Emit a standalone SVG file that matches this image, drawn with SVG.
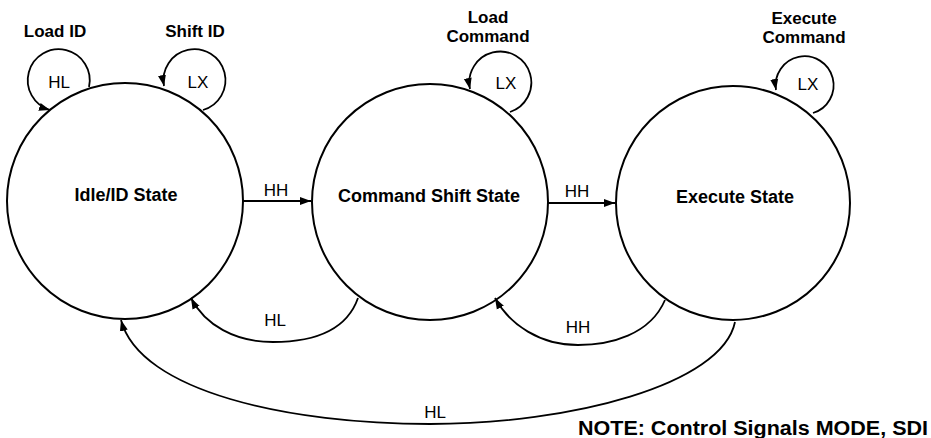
<svg xmlns="http://www.w3.org/2000/svg" width="931" height="438" viewBox="0 0 931 438">
<style>
.st{fill:#fff;stroke:#000;stroke-width:2}
.c{fill:none;stroke:#000;stroke-width:1.8}
.t{font-family:"Liberation Sans",Arial,sans-serif;fill:#000;text-anchor:middle}
.n{font-weight:bold;font-size:18px}
.b{font-weight:bold;font-size:17px}
.r{font-size:17px}
</style>
<defs>
<marker id="ah" markerUnits="userSpaceOnUse" markerWidth="12" markerHeight="10" refX="11" refY="5" orient="auto">
<path d="M0,1 L11,5 L0,9 Z" fill="#000"/>
</marker>
</defs>
<rect width="931" height="438" fill="#fff"/>
<g id="idle">
<circle class="st" cx="125" cy="201" r="118"/>
<text class="t n" x="126" y="201">Idle/ID State</text>
</g>
<g id="cmdshift">
<circle class="st" cx="430" cy="202" r="118"/>
<text class="t n" x="429" y="202">Command Shift State</text>
</g>
<g id="execute">
<circle class="st" cx="733" cy="203" r="117"/>
<text class="t n" x="735" y="203">Execute State</text>
</g>
<g id="connectors">
<path class="c" d="M89,87 A31,31 0 1 0 50,110" marker-end="url(#ah)"/>
<path class="c" d="M203,110 A31,31 0 1 0 164,86" marker-end="url(#ah)"/>
<path class="c" d="M510,112 A31,31 0 1 0 470,89" marker-end="url(#ah)"/>
<path class="c" d="M813,113 A29,29 0 1 0 776,90" marker-end="url(#ah)"/>
<path class="c" d="M243,201 L311,201" marker-end="url(#ah)"/>
<path class="c" d="M548,203 L615,203" marker-end="url(#ah)"/>
<path class="c" d="M358,298 C345,335 305,342 273,342 C235,342 205,325 191,298" marker-end="url(#ah)"/>
<path class="c" d="M665,300 C650,335 610,345 578,345 C540,345 510,325 495,298" marker-end="url(#ah)"/>
<path class="c" d="M735,322 C722,385 570,424 430,424 C290,424 140,392 121,320" marker-end="url(#ah)"/>
</g>
<g id="labels">
<text class="t b" x="55" y="37">Load ID</text>
<text class="t b" x="195" y="37">Shift ID</text>
<text class="t b" x="488" y="23">Load</text>
<text class="t b" x="488" y="42">Command</text>
<text class="t b" x="804" y="24">Execute</text>
<text class="t b" x="804" y="43">Command</text>
<text class="t r" x="59" y="88">HL</text>
<text class="t r" x="198" y="88">LX</text>
<text class="t r" x="506" y="89">LX</text>
<text class="t r" x="808" y="90">LX</text>
<text class="t r" x="276" y="196">HH</text>
<text class="t r" x="577" y="197">HH</text>
<text class="t r" x="275" y="326">HL</text>
<text class="t r" x="578" y="333">HH</text>
<text class="t r" x="435" y="418">HL</text>
<text class="t" x="928" y="435" textLength="350" lengthAdjust="spacingAndGlyphs" style="font-weight:bold;font-size:20px;text-anchor:end">NOTE: Control Signals MODE, SDI</text>
</g>
</svg>
